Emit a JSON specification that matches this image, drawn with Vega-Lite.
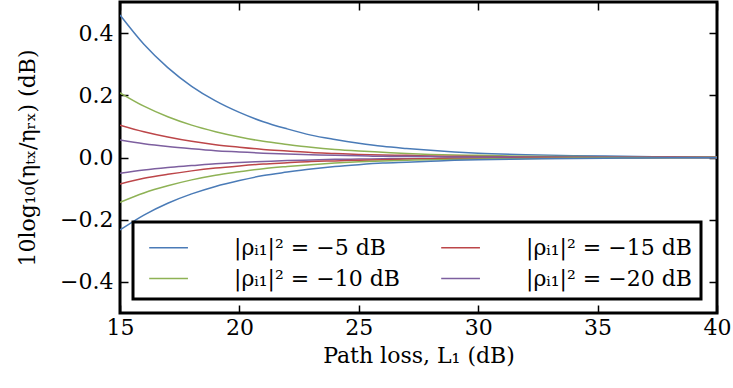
{
  "$schema": "https://vega.github.io/schema/vega-lite/v6.json",
  "width": 597,
  "height": 311,
  "autosize": {"type": "none"},
  "padding": {"left": 120, "top": 2, "right": 16, "bottom": 75},
  "background": "white",
  "config": {
    "view": {"stroke": "black", "strokeWidth": 3},
    "font": "DejaVu Serif",
    "axis": {"labelFont": "DejaVu Serif", "titleFont": "DejaVu Serif", "labelFontSize": 22, "titleFontSize": 22, "titleFontWeight": "normal", "labelColor": "black", "titleColor": "black", "grid": false, "domain": false, "tickColor": "black", "tickWidth": 1.5, "tickSize": -8},
    "legend": {"labelFont": "DejaVu Serif", "labelFontSize": 22}
  },
  "data": {"values": [
    {"L":15,"v":0.458,"s":"-5","b":"p"},{"L":16,"v":0.364,"s":"-5","b":"p"},{"L":17,"v":0.289,"s":"-5","b":"p"},{"L":18,"v":0.229,"s":"-5","b":"p"},{"L":19,"v":0.182,"s":"-5","b":"p"},{"L":20,"v":0.145,"s":"-5","b":"p"},{"L":21,"v":0.115,"s":"-5","b":"p"},{"L":22,"v":0.092,"s":"-5","b":"p"},{"L":23,"v":0.072,"s":"-5","b":"p"},{"L":24,"v":0.058,"s":"-5","b":"p"},{"L":25,"v":0.046,"s":"-5","b":"p"},{"L":26,"v":0.036,"s":"-5","b":"p"},{"L":27,"v":0.029,"s":"-5","b":"p"},{"L":28,"v":0.023,"s":"-5","b":"p"},{"L":29,"v":0.018,"s":"-5","b":"p"},{"L":30,"v":0.014,"s":"-5","b":"p"},{"L":32,"v":0.009,"s":"-5","b":"p"},{"L":34,"v":0.006,"s":"-5","b":"p"},{"L":36,"v":0.004,"s":"-5","b":"p"},{"L":38,"v":0.002,"s":"-5","b":"p"},{"L":40,"v":0.001,"s":"-5","b":"p"},
    {"L":15,"v":0.208,"s":"-10","b":"p"},{"L":16,"v":0.165,"s":"-10","b":"p"},{"L":17,"v":0.131,"s":"-10","b":"p"},{"L":18,"v":0.104,"s":"-10","b":"p"},{"L":19,"v":0.083,"s":"-10","b":"p"},{"L":20,"v":0.066,"s":"-10","b":"p"},{"L":21,"v":0.052,"s":"-10","b":"p"},{"L":22,"v":0.042,"s":"-10","b":"p"},{"L":23,"v":0.033,"s":"-10","b":"p"},{"L":24,"v":0.026,"s":"-10","b":"p"},{"L":25,"v":0.021,"s":"-10","b":"p"},{"L":26,"v":0.017,"s":"-10","b":"p"},{"L":27,"v":0.013,"s":"-10","b":"p"},{"L":28,"v":0.010,"s":"-10","b":"p"},{"L":29,"v":0.008,"s":"-10","b":"p"},{"L":30,"v":0.007,"s":"-10","b":"p"},{"L":32,"v":0.004,"s":"-10","b":"p"},{"L":34,"v":0.003,"s":"-10","b":"p"},{"L":36,"v":0.002,"s":"-10","b":"p"},{"L":38,"v":0.001,"s":"-10","b":"p"},{"L":40,"v":0.001,"s":"-10","b":"p"},
    {"L":15,"v":0.104,"s":"-15","b":"p"},{"L":16,"v":0.083,"s":"-15","b":"p"},{"L":17,"v":0.066,"s":"-15","b":"p"},{"L":18,"v":0.052,"s":"-15","b":"p"},{"L":19,"v":0.041,"s":"-15","b":"p"},{"L":20,"v":0.033,"s":"-15","b":"p"},{"L":21,"v":0.026,"s":"-15","b":"p"},{"L":22,"v":0.021,"s":"-15","b":"p"},{"L":23,"v":0.016,"s":"-15","b":"p"},{"L":24,"v":0.013,"s":"-15","b":"p"},{"L":25,"v":0.010,"s":"-15","b":"p"},{"L":26,"v":0.008,"s":"-15","b":"p"},{"L":27,"v":0.007,"s":"-15","b":"p"},{"L":28,"v":0.005,"s":"-15","b":"p"},{"L":29,"v":0.004,"s":"-15","b":"p"},{"L":30,"v":0.003,"s":"-15","b":"p"},{"L":32,"v":0.002,"s":"-15","b":"p"},{"L":34,"v":0.001,"s":"-15","b":"p"},{"L":36,"v":0.001,"s":"-15","b":"p"},{"L":38,"v":0.001,"s":"-15","b":"p"},{"L":40,"v":0.0,"s":"-15","b":"p"},
    {"L":15,"v":0.056,"s":"-20","b":"p"},{"L":16,"v":0.044,"s":"-20","b":"p"},{"L":17,"v":0.035,"s":"-20","b":"p"},{"L":18,"v":0.028,"s":"-20","b":"p"},{"L":19,"v":0.022,"s":"-20","b":"p"},{"L":20,"v":0.018,"s":"-20","b":"p"},{"L":21,"v":0.014,"s":"-20","b":"p"},{"L":22,"v":0.011,"s":"-20","b":"p"},{"L":23,"v":0.009,"s":"-20","b":"p"},{"L":24,"v":0.007,"s":"-20","b":"p"},{"L":25,"v":0.006,"s":"-20","b":"p"},{"L":26,"v":0.004,"s":"-20","b":"p"},{"L":27,"v":0.004,"s":"-20","b":"p"},{"L":28,"v":0.003,"s":"-20","b":"p"},{"L":29,"v":0.002,"s":"-20","b":"p"},{"L":30,"v":0.002,"s":"-20","b":"p"},{"L":32,"v":0.001,"s":"-20","b":"p"},{"L":34,"v":0.001,"s":"-20","b":"p"},{"L":36,"v":0.0,"s":"-20","b":"p"},{"L":38,"v":0.0,"s":"-20","b":"p"},{"L":40,"v":0.0,"s":"-20","b":"p"},
    {"L":15,"v":-0.051,"s":"-20","b":"n"},{"L":16,"v":-0.040,"s":"-20","b":"n"},{"L":17,"v":-0.032,"s":"-20","b":"n"},{"L":18,"v":-0.026,"s":"-20","b":"n"},{"L":19,"v":-0.020,"s":"-20","b":"n"},{"L":20,"v":-0.016,"s":"-20","b":"n"},{"L":21,"v":-0.013,"s":"-20","b":"n"},{"L":22,"v":-0.010,"s":"-20","b":"n"},{"L":23,"v":-0.008,"s":"-20","b":"n"},{"L":24,"v":-0.006,"s":"-20","b":"n"},{"L":25,"v":-0.005,"s":"-20","b":"n"},{"L":26,"v":-0.004,"s":"-20","b":"n"},{"L":27,"v":-0.003,"s":"-20","b":"n"},{"L":28,"v":-0.003,"s":"-20","b":"n"},{"L":29,"v":-0.002,"s":"-20","b":"n"},{"L":30,"v":-0.002,"s":"-20","b":"n"},{"L":32,"v":-0.001,"s":"-20","b":"n"},{"L":34,"v":-0.001,"s":"-20","b":"n"},{"L":36,"v":0.0,"s":"-20","b":"n"},{"L":38,"v":0.0,"s":"-20","b":"n"},{"L":40,"v":0.0,"s":"-20","b":"n"},
    {"L":15,"v":-0.085,"s":"-15","b":"n"},{"L":16,"v":-0.067,"s":"-15","b":"n"},{"L":17,"v":-0.054,"s":"-15","b":"n"},{"L":18,"v":-0.043,"s":"-15","b":"n"},{"L":19,"v":-0.034,"s":"-15","b":"n"},{"L":20,"v":-0.027,"s":"-15","b":"n"},{"L":21,"v":-0.021,"s":"-15","b":"n"},{"L":22,"v":-0.017,"s":"-15","b":"n"},{"L":23,"v":-0.013,"s":"-15","b":"n"},{"L":24,"v":-0.011,"s":"-15","b":"n"},{"L":25,"v":-0.009,"s":"-15","b":"n"},{"L":26,"v":-0.007,"s":"-15","b":"n"},{"L":27,"v":-0.005,"s":"-15","b":"n"},{"L":28,"v":-0.004,"s":"-15","b":"n"},{"L":29,"v":-0.003,"s":"-15","b":"n"},{"L":30,"v":-0.003,"s":"-15","b":"n"},{"L":32,"v":-0.002,"s":"-15","b":"n"},{"L":34,"v":-0.001,"s":"-15","b":"n"},{"L":36,"v":-0.001,"s":"-15","b":"n"},{"L":38,"v":0.0,"s":"-15","b":"n"},{"L":40,"v":0.0,"s":"-15","b":"n"},
    {"L":15,"v":-0.144,"s":"-10","b":"n"},{"L":16,"v":-0.114,"s":"-10","b":"n"},{"L":17,"v":-0.091,"s":"-10","b":"n"},{"L":18,"v":-0.072,"s":"-10","b":"n"},{"L":19,"v":-0.057,"s":"-10","b":"n"},{"L":20,"v":-0.046,"s":"-10","b":"n"},{"L":21,"v":-0.036,"s":"-10","b":"n"},{"L":22,"v":-0.029,"s":"-10","b":"n"},{"L":23,"v":-0.023,"s":"-10","b":"n"},{"L":24,"v":-0.018,"s":"-10","b":"n"},{"L":25,"v":-0.014,"s":"-10","b":"n"},{"L":26,"v":-0.011,"s":"-10","b":"n"},{"L":27,"v":-0.009,"s":"-10","b":"n"},{"L":28,"v":-0.007,"s":"-10","b":"n"},{"L":29,"v":-0.006,"s":"-10","b":"n"},{"L":30,"v":-0.005,"s":"-10","b":"n"},{"L":32,"v":-0.003,"s":"-10","b":"n"},{"L":34,"v":-0.002,"s":"-10","b":"n"},{"L":36,"v":-0.001,"s":"-10","b":"n"},{"L":38,"v":-0.001,"s":"-10","b":"n"},{"L":40,"v":0.0,"s":"-10","b":"n"},
    {"L":15,"v":-0.233,"s":"-5","b":"n"},{"L":16,"v":-0.185,"s":"-5","b":"n"},{"L":17,"v":-0.147,"s":"-5","b":"n"},{"L":18,"v":-0.117,"s":"-5","b":"n"},{"L":19,"v":-0.093,"s":"-5","b":"n"},{"L":20,"v":-0.074,"s":"-5","b":"n"},{"L":21,"v":-0.058,"s":"-5","b":"n"},{"L":22,"v":-0.047,"s":"-5","b":"n"},{"L":23,"v":-0.037,"s":"-5","b":"n"},{"L":24,"v":-0.029,"s":"-5","b":"n"},{"L":25,"v":-0.023,"s":"-5","b":"n"},{"L":26,"v":-0.018,"s":"-5","b":"n"},{"L":27,"v":-0.015,"s":"-5","b":"n"},{"L":28,"v":-0.012,"s":"-5","b":"n"},{"L":29,"v":-0.009,"s":"-5","b":"n"},{"L":30,"v":-0.007,"s":"-5","b":"n"},{"L":32,"v":-0.005,"s":"-5","b":"n"},{"L":34,"v":-0.003,"s":"-5","b":"n"},{"L":36,"v":-0.002,"s":"-5","b":"n"},{"L":38,"v":-0.001,"s":"-5","b":"n"},{"L":40,"v":-0.001,"s":"-5","b":"n"}
  ]},
  "layer": [
    {
      "mark": {"type": "line", "strokeWidth": 1.5, "interpolate": "monotone", "clip": true},
      "encoding": {
        "x": {"field": "L", "type": "quantitative", "scale": {"domain": [15, 40], "nice": false, "zero": false},
              "axis": {"orient": "bottom", "values": [15, 20, 25, 30, 35, 40], "format": "d", "labelPadding": 12, "labelFontSize": 22, "titleFontSize": 22, "title": "Path loss, L₁ (dB)", "titlePadding": 7, "labelFlush": false}},
        "y": {"field": "v", "type": "quantitative", "scale": {"domain": [-0.5, 0.5], "nice": false, "zero": false},
              "axis": {"orient": "left", "values": [-0.4, -0.2, 0, 0.2, 0.4], "format": ".1f", "labelPadding": 15, "labelFontSize": 22, "titleFontSize": 22, "title": "10log₁₀(ηₜₓ/ηᵣₓ) (dB)", "titlePadding": 20}},
        "color": {"field": "s", "type": "nominal",
                  "scale": {"domain": ["-5", "-15", "-10", "-20"], "range": ["#4a7bb7", "#bc4649", "#8eb255", "#7d5f9f"]},
                  "legend": {"orient": "none", "legendX": 13, "legendY": 220, "columns": 2, "direction": "horizontal", "title": null,
                             "labelExpr": "'|ρᵢ₁|² = −' + slice(datum.label, 1) + ' dB'",
                             "symbolType": "M-0.6,0H1.9", "symbolSize": 961, "symbolStrokeWidth": 1.5, "labelOffset": 59,
                             "labelFont": "DejaVu Serif", "labelFontSize": 22, "labelColor": "black", "labelLimit": 400,
                             "columnPadding": 34, "rowPadding": 3, "padding": 9,
                             "strokeColor": "black", "fillColor": "white", "cornerRadius": 0,
                             "encode": {"legend": {"update": {"strokeWidth": {"value": 3}}}}}},
        "detail": {"field": "b", "type": "nominal"}
      }
    },
    {
      "mark": {"type": "line", "opacity": 0},
      "encoding": {
        "x": {"field": "L", "type": "quantitative", "axis": {"orient": "top", "values": [15, 20, 25, 30, 35, 40], "labels": false, "title": null}},
        "y": {"field": "v", "type": "quantitative", "axis": {"orient": "right", "values": [-0.4, -0.2, 0, 0.2, 0.4], "labels": false, "title": null}},
        "detail": {"field": "b", "type": "nominal"}
      }
    }
  ],
  "resolve": {"axis": {"x": "independent", "y": "independent"}}
}
